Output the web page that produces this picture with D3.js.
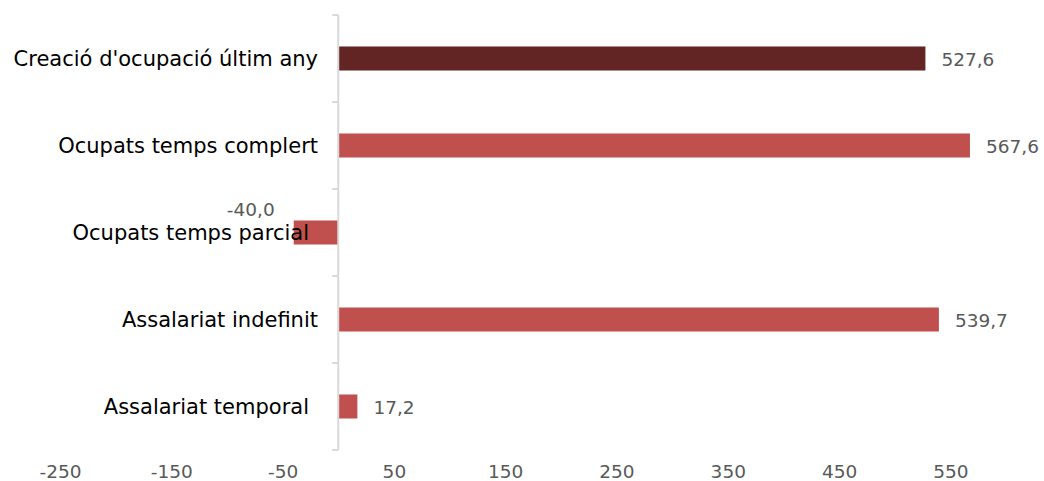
<!DOCTYPE html>
<html>
<head>
<meta charset="utf-8">
<script src="https://cdn.jsdelivr.net/npm/d3@7"></script>
<style>
  body { margin: 0; background: #fff; }
  svg text { font-family: "DejaVu Sans", Verdana, sans-serif; }
</style>
</head>
<body>
<div id="chart"></div>
<script>
const categories = [
  "Creació d'ocupació últim any",
  "Ocupats temps complert",
  "Ocupats temps parcial",
  "Assalariat indefinit",
  "Assalariat temporal",
];
const values = [527.6, 567.6, -40.0, 539.7, 17.2];
const tickValues = [-250, -150, -50, 50, 150, 250, 350, 450, 550];

const width = 1044;
const height = 481;

const svg = d3
  .select("#chart")
  .append("svg")
  .attr("width", width)
  .attr("height", height);

const x = d3.scaleLinear().domain([-250, 600]).range([60, 1006]);
const y = d3.scaleBand().domain(categories).range([15, 450]).padding(0);
const barH = y.bandwidth() * 0.276;

// comma decimals, plain hyphen for negatives
const fmt = (v) => v.toFixed(1).replace(".", ",");

// bars
svg
  .selectAll("rect.bar")
  .data(values)
  .enter()
  .append("rect")
  .attr("class", "bar")
  .attr("x", (d) => x(Math.min(0, d)))
  .attr("width", (d) => Math.abs(x(d) - x(0)))
  .attr("y", (d, i) => y(categories[i]) + (y.bandwidth() - barH) / 2)
  .attr("height", barH)
  .attr("fill", (d, i) => (i === 0 ? "#632523" : "#C0504D"));

// vertical category axis
const yAxis = svg.append("g");
yAxis
  .append("line")
  .attr("x1", x(0))
  .attr("x2", x(0))
  .attr("y1", y.range()[0])
  .attr("y2", y.range()[1])
  .attr("stroke", "#d9d9d9")
  .attr("stroke-width", 2);
const bounds = categories.map((c) => y(c)).concat([y.range()[1]]);
yAxis
  .selectAll("line.tick")
  .data(bounds)
  .enter()
  .append("line")
  .attr("class", "tick")
  .attr("x1", x(0) - 6)
  .attr("x2", x(0))
  .attr("y1", (d) => d)
  .attr("y2", (d) => d)
  .attr("stroke", "#d9d9d9")
  .attr("stroke-width", 2);

// category labels
svg
  .selectAll("text.cat")
  .data(categories)
  .enter()
  .append("text")
  .attr("class", "cat")
  .attr("x", (d, i) => (i === 2 || i === 4 ? 309 : 318))
  .attr("y", (d) => y(d) + y.bandwidth() / 2)
  .attr("dy", "0.35em")
  .attr("text-anchor", "end")
  .attr("font-size", 21)
  .attr("fill", "#000")
  .text((d) => d);

// value labels
svg
  .selectAll("text.val")
  .data(values)
  .enter()
  .append("text")
  .attr("class", "val")
  .attr("x", (d) => (d < 0 ? x(d) - 19 : x(d) + 16))
  .attr("y", (d, i) => y(categories[i]) + y.bandwidth() / 2 + (d < 0 ? -23 : 1.5))
  .attr("dy", "0.35em")
  .attr("text-anchor", (d) => (d < 0 ? "end" : "start"))
  .attr("font-size", 18.5)
  .attr("fill", "#595959")
  .text((d) => fmt(d));

// x axis labels
const xAxis = d3
  .axisBottom(x)
  .tickValues(tickValues)
  .tickSize(0)
  .tickPadding(0)
  .tickFormat((d) => String(d));
const gx = svg.append("g").attr("transform", "translate(0,465)").call(xAxis);
gx.select(".domain").remove();
gx.selectAll("text")
  .attr("font-size", 18.5)
  .attr("fill", "#595959")
  .attr("font-family", "DejaVu Sans, Verdana, sans-serif");
</script>
</body>
</html>
